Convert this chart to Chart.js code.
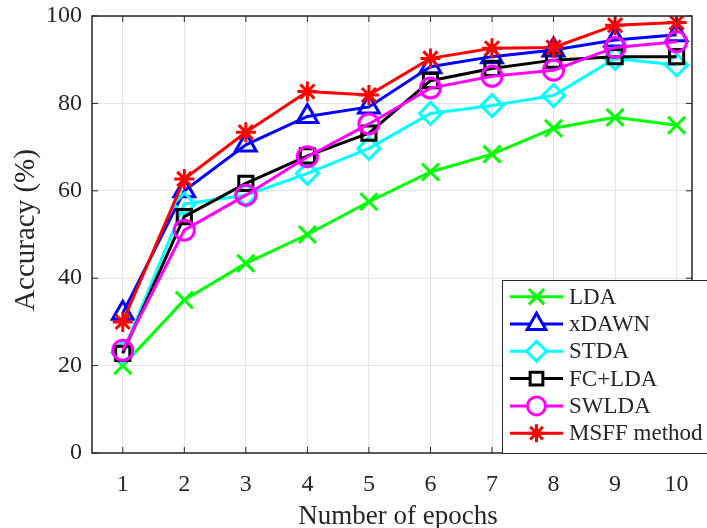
<!DOCTYPE html>
<html>
<head>
<meta charset="utf-8">
<script src="https://cdn.jsdelivr.net/npm/chart.js@4.4.1/dist/chart.umd.min.js"></script>
<style>
html,body{margin:0;padding:0;background:#fff;}
#wrap{width:707px;height:528px;}
</style>
</head>
<body>
<div id="wrap"><canvas id="c" width="707" height="528"></canvas></div>
<script>
const epochs = [1,2,3,4,5,6,7,8,9,10];
const yTicks = [0,20,40,60,80,100];
const xTitle = 'Number of epochs';
const yTitle = 'Accuracy (%)';
const seriesNames = ['LDA','xDAWN','STDA','FC+LDA','SWLDA','MSFF method'];
const lda   = [20.0,35.0,43.4,50.0,57.5,64.3,68.4,74.3,76.8,75.0];
const xdawn = [32.0,60.0,70.5,77.0,79.2,88.4,90.7,92.2,94.5,95.7];
const stda  = [23.0,57.0,59.0,64.0,69.7,77.7,79.5,81.8,90.3,88.8];
const fclda = [22.8,54.1,61.7,68.0,73.2,85.2,88.0,89.9,90.7,90.7];
const swlda = [23.5,51.0,59.0,67.8,75.3,83.5,86.2,87.6,92.8,94.1];
const msff  = [30.0,62.7,73.4,82.7,81.9,90.3,92.6,92.8,97.9,98.5];

const seriesValues = [lda,xdawn,stda,fclda,swlda,msff];
const colors = ['#00ff00','#0000ff','#00ffff','#000000','#ff00ff','#ff0000'];
const styles = ['crossRot','triangle','rectRot','rect','circle','star'];
const radii  = [12,12,11,10,10,10];

const FONT = "'Liberation Serif','Times New Roman',serif";
const AXC = '#262626';

const datasets = seriesNames.map((n,i)=>({
  label:n,
  data: epochs.map((e,j)=>({x:e,y:seriesValues[i][j]})),
  borderColor:colors[i],
  backgroundColor:'rgba(0,0,0,0)',
  pointBorderColor:colors[i],
  pointBackgroundColor:'rgba(0,0,0,0)',
  pointStyle:styles[i],
  pointRadius:radii[i],
  pointBorderWidth:3,
  borderWidth:3,
  tension:0,
  order: seriesNames.length-1-i
}));

const framePlugin = {
  id:'frame',
  afterDraw(chart){
    const ctx = chart.ctx, a = chart.chartArea;
    const xs = chart.scales.x, ys = chart.scales.y;
    ctx.save();
    ctx.strokeStyle = AXC; ctx.lineWidth = 1.5;
    ctx.strokeRect(a.left, a.top, a.right-a.left, a.bottom-a.top);
    ctx.lineWidth = 1;
    epochs.forEach(v=>{
      const px = xs.getPixelForValue(v);
      ctx.beginPath();
      ctx.moveTo(px,a.bottom); ctx.lineTo(px,a.bottom-6);
      ctx.moveTo(px,a.top); ctx.lineTo(px,a.top+6);
      ctx.stroke();
    });
    yTicks.forEach(v=>{
      const py = ys.getPixelForValue(v);
      ctx.beginPath();
      ctx.moveTo(a.left,py); ctx.lineTo(a.left+6,py);
      ctx.moveTo(a.right,py); ctx.lineTo(a.right-6,py);
      ctx.stroke();
    });
    // axis titles
    ctx.fillStyle = AXC;
    ctx.textAlign = 'center';
    ctx.textBaseline = 'alphabetic';
    ctx.font = '27px ' + FONT;
    ctx.fillText(xTitle, 398, 524);
    ctx.save();
    ctx.translate(34, 230);
    ctx.rotate(-Math.PI/2);
    ctx.font = '29px ' + FONT;
    ctx.fillText(yTitle, 0, 0);
    ctx.restore();
    // legend
    const L = 502, T = 280, R = 710, B = a.bottom;
    ctx.fillStyle = '#fff';
    ctx.fillRect(L,T,R-L,B-T);
    ctx.strokeStyle = AXC; ctx.lineWidth = 1;
    ctx.strokeRect(L+0.5,T+0.5,R-L,B-T);
    const rowH = 27.3, y0 = 296.7;
    seriesNames.forEach((n,i)=>{
      const y = y0 + i*rowH;
      ctx.strokeStyle = colors[i]; ctx.lineWidth = 3;
      ctx.beginPath(); ctx.moveTo(510,y); ctx.lineTo(563,y); ctx.stroke();
      ctx.fillStyle = '#fff';
      Chart.helpers.drawPoint(ctx,{pointStyle:styles[i],radius:radii[i]*0.9,borderWidth:3,rotation:0},536.5,y);
      ctx.fillStyle = AXC;
      ctx.font = '23px ' + FONT;
      ctx.textBaseline = 'middle';
      ctx.textAlign = 'left';
      ctx.fillText(n,569,y+1);
    });
    ctx.restore();
  }
};

new Chart(document.getElementById('c'),{
  type:'line',
  data:{datasets},
  options:{
    responsive:false,
    animation:false,
    events:[],
    layout:{padding:{left:0,top:16,right:10,bottom:0}},
    plugins:{legend:{display:false},tooltip:{enabled:false}},
    scales:{
      x:{
        type:'linear', min:0.5, max:10.25,
        afterBuildTicks(ax){ ax.ticks = epochs.map(v=>({value:v})); },
        afterFit(ax){ ax.height = 75; ax.paddingLeft = 0; ax.paddingRight = 0; },
        grid:{color:'#e3e3e3',drawTicks:false,lineWidth:1},
        border:{display:false},
        ticks:{color:AXC,font:{family:FONT,size:24},padding:17,maxRotation:0,autoSkip:false,callback:v=>String(v)}
      },
      y:{
        min:0,max:100,
        afterBuildTicks(ax){ ax.ticks = yTicks.map(v=>({value:v})); },
        afterFit(ax){ ax.width = 92; ax.paddingTop = 0; ax.paddingBottom = 0; },
        grid:{color:'#e3e3e3',drawTicks:false,lineWidth:1},
        border:{display:false},
        ticks:{color:AXC,font:{family:FONT,size:24},padding:10,callback:v=>String(v)}
      }
    }
  },
  plugins:[framePlugin]
});
</script>
</body>
</html>
